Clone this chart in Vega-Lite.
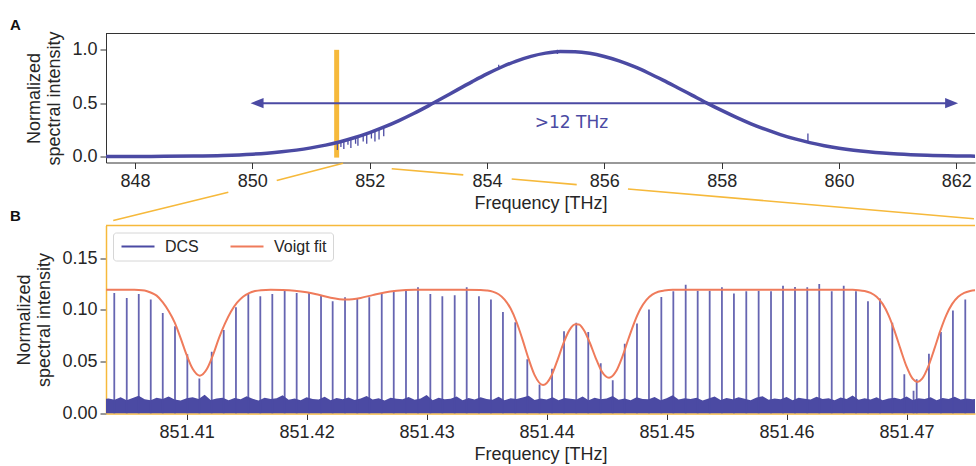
{
  "$schema": "https://vega.github.io/schema/vega-lite/v6.json",
  "padding": {"left": 10, "top": 17.5, "right": 0, "bottom": 0},
  "bounds": "flush",
  "spacing": 63,
  "resolve": {"legend": {"color": "independent"}, "scale": {"color": "independent"}},
  "config": {
    "view": {"stroke": null},
    "font": "Liberation Sans",
    "axis": {"labelFont": "Liberation Sans", "labelFontSize": 18, "labelColor": "#262626", "titleFont": "Liberation Sans", "titleFontSize": 18, "titleFontWeight": "normal", "titleColor": "#262626", "tickColor": "#333333", "tickSize": 6, "domainColor": "#333333", "grid": false, "labelPadding": 4, "titlePadding": 4, "titleLineHeight": 20, "labelFlush": false, "labelOverlap": false},
    "axisY": {"titlePadding": 8, "labelPadding": 3}
  },
  "datasets": {
    "curve": [
      {"f":847.5,"v":0.0003},{"f":848.0,"v":0.0008},{"f":848.5,"v":0.002},{"f":849.0,"v":0.0048},{"f":849.5,"v":0.0107},{"f":850.0,"v":0.0224},{"f":850.25,"v":0.0317},{"f":850.5,"v":0.044},{"f":850.75,"v":0.060},{"f":851.0,"v":0.081},{"f":851.25,"v":0.1068},{"f":851.5,"v":0.139},{"f":851.75,"v":0.178},{"f":852.0,"v":0.224},{"f":852.25,"v":0.277},{"f":852.5,"v":0.337},{"f":852.75,"v":0.403},{"f":853.0,"v":0.475},{"f":853.25,"v":0.550},{"f":853.5,"v":0.627},{"f":853.75,"v":0.702},{"f":854.0,"v":0.774},{"f":854.25,"v":0.839},{"f":854.5,"v":0.895},{"f":854.75,"v":0.939},{"f":855.0,"v":0.969},{"f":855.25,"v":0.984},{"f":855.5,"v":0.982},{"f":855.75,"v":0.967},{"f":856.0,"v":0.937},{"f":856.25,"v":0.896},{"f":856.5,"v":0.844},{"f":856.75,"v":0.783},{"f":857.0,"v":0.716},{"f":857.25,"v":0.645},{"f":857.5,"v":0.573},{"f":857.75,"v":0.501},{"f":858.0,"v":0.432},{"f":858.25,"v":0.367},{"f":858.5,"v":0.307},{"f":858.75,"v":0.254},{"f":859.0,"v":0.206},{"f":859.25,"v":0.165},{"f":859.5,"v":0.1305},{"f":859.75,"v":0.1015},{"f":860.0,"v":0.0778},{"f":860.25,"v":0.0588},{"f":860.5,"v":0.0438},{"f":860.75,"v":0.0321},{"f":861.0,"v":0.0232},{"f":861.5,"v":0.0116},{"f":862.0,"v":0.0055},{"f":862.4,"v":0.0029}
    ],
    "glitch": [
      {"f":851.45,"v":0.132,"v2":0.06},{"f":851.51,"v":0.142,"v2":0.09},{"f":851.56,"v":0.148,"v2":0.07},{"f":851.63,"v":0.158,"v2":0.11},{"f":851.68,"v":0.166,"v2":0.08},{"f":851.76,"v":0.18,"v2":0.12},{"f":851.8,"v":0.186,"v2":0.10},{"f":851.89,"v":0.202,"v2":0.14},{"f":851.95,"v":0.214,"v2":0.12},{"f":852.03,"v":0.23,"v2":0.17},{"f":852.09,"v":0.241,"v2":0.14},{"f":852.16,"v":0.256,"v2":0.16},{"f":852.24,"v":0.274,"v2":0.19},{"f":859.47,"v":0.13,"v2":0.215},{"f":855.2,"v":0.96,"v2":1.0},{"f":854.2,"v":0.82,"v2":0.86}
    ],
    "connector": [
      {"f":847.630,"v":-0.600,"f2":849.591,"v2":-0.334},
      {"f":850.416,"v":-0.225,"f2":851.546,"v2":-0.0635},
      {"f":852.376,"v":-0.115,"f2":853.596,"v2":-0.172},
      {"f":854.421,"v":-0.211,"f2":855.529,"v2":-0.263},
      {"f":856.403,"v":-0.304,"f2":862.30,"v2":-0.583}
    ],
    "noise": [
      {"f":851.4030,"n":0.0140},{"f":851.4035,"n":0.0145},{"f":851.4040,"n":0.0132},{"f":851.4045,"n":0.0158},{"f":851.4050,"n":0.0127},{"f":851.4055,"n":0.0149},{"f":851.4060,"n":0.0171},{"f":851.4065,"n":0.0138},{"f":851.4070,"n":0.0129},{"f":851.4075,"n":0.0152},{"f":851.4080,"n":0.0141},
      {"f":851.4085,"n":0.0163},{"f":851.4090,"n":0.0135},{"f":851.4095,"n":0.0126},{"f":851.4100,"n":0.0147},{"f":851.4105,"n":0.0158},{"f":851.4110,"n":0.0139},{"f":851.4115,"n":0.0182},{"f":851.4120,"n":0.0131},{"f":851.4125,"n":0.0144},{"f":851.4130,"n":0.0153},
      {"f":851.4135,"n":0.0128},{"f":851.4140,"n":0.0149},{"f":851.4145,"n":0.0137},{"f":851.4150,"n":0.0166},{"f":851.4155,"n":0.0142},{"f":851.4160,"n":0.0125},{"f":851.4165,"n":0.0151},{"f":851.4170,"n":0.0139},{"f":851.4175,"n":0.0147},{"f":851.4180,"n":0.0175},
      {"f":851.4185,"n":0.0133},{"f":851.4190,"n":0.0146},{"f":851.4195,"n":0.0129},{"f":851.4200,"n":0.0158},{"f":851.4205,"n":0.0141},{"f":851.4210,"n":0.0136},{"f":851.4215,"n":0.0162},{"f":851.4220,"n":0.0127},{"f":851.4225,"n":0.0149},{"f":851.4230,"n":0.0138},
      {"f":851.4235,"n":0.0155},{"f":851.4240,"n":0.0131},{"f":851.4245,"n":0.0144},{"f":851.4250,"n":0.0168},{"f":851.4255,"n":0.0135},{"f":851.4260,"n":0.0148},{"f":851.4265,"n":0.0126},{"f":851.4270,"n":0.0153},{"f":851.4275,"n":0.0142},{"f":851.4280,"n":0.0137},
      {"f":851.4285,"n":0.0159},{"f":851.4290,"n":0.0132},{"f":851.4295,"n":0.0146},{"f":851.4300,"n":0.0178},{"f":851.4305,"n":0.0129},{"f":851.4310,"n":0.0151},{"f":851.4315,"n":0.0138},{"f":851.4320,"n":0.0143},{"f":851.4325,"n":0.0164},{"f":851.4330,"n":0.0127},
      {"f":851.4335,"n":0.0149},{"f":851.4340,"n":0.0136},{"f":851.4345,"n":0.0157},{"f":851.4350,"n":0.0141},{"f":851.4355,"n":0.0133},{"f":851.4360,"n":0.0161},{"f":851.4365,"n":0.0128},{"f":851.4370,"n":0.0147},{"f":851.4375,"n":0.0139},{"f":851.4380,"n":0.0154},
      {"f":851.4385,"n":0.0172},{"f":851.4390,"n":0.0131},{"f":851.4395,"n":0.0145},{"f":851.4400,"n":0.0136},{"f":851.4405,"n":0.0158},{"f":851.4410,"n":0.0127},{"f":851.4415,"n":0.0149},{"f":851.4420,"n":0.0142},{"f":851.4425,"n":0.0135},{"f":851.4430,"n":0.0163},
      {"f":851.4435,"n":0.0129},{"f":851.4440,"n":0.0151},{"f":851.4445,"n":0.0138},{"f":851.4450,"n":0.0146},{"f":851.4455,"n":0.0169},{"f":851.4460,"n":0.0132},{"f":851.4465,"n":0.0144},{"f":851.4470,"n":0.0127},{"f":851.4475,"n":0.0156},{"f":851.4480,"n":0.0141},
      {"f":851.4485,"n":0.0137},{"f":851.4490,"n":0.0159},{"f":851.4495,"n":0.0128},{"f":851.4500,"n":0.0148},{"f":851.4505,"n":0.0176},{"f":851.4510,"n":0.0134},{"f":851.4515,"n":0.0147},{"f":851.4520,"n":0.0139},{"f":851.4525,"n":0.0152},{"f":851.4530,"n":0.0126},
      {"f":851.4535,"n":0.0145},{"f":851.4540,"n":0.0163},{"f":851.4545,"n":0.0131},{"f":851.4550,"n":0.0149},{"f":851.4555,"n":0.0138},{"f":851.4560,"n":0.0157},{"f":851.4565,"n":0.0142},{"f":851.4570,"n":0.0129},{"f":851.4575,"n":0.0154},{"f":851.4580,"n":0.0167},
      {"f":851.4585,"n":0.0133},{"f":851.4590,"n":0.0146},{"f":851.4595,"n":0.0137},{"f":851.4600,"n":0.0159},{"f":851.4605,"n":0.0128},{"f":851.4610,"n":0.0151},{"f":851.4615,"n":0.0143},{"f":851.4620,"n":0.0135},{"f":851.4625,"n":0.0162},{"f":851.4630,"n":0.0139},
      {"f":851.4635,"n":0.0147},{"f":851.4640,"n":0.0127},{"f":851.4645,"n":0.0155},{"f":851.4650,"n":0.0141},{"f":851.4655,"n":0.0174},{"f":851.4660,"n":0.0132},{"f":851.4665,"n":0.0148},{"f":851.4670,"n":0.0136},{"f":851.4675,"n":0.0158},{"f":851.4680,"n":0.0129},
      {"f":851.4685,"n":0.0144},{"f":851.4690,"n":0.0152},{"f":851.4695,"n":0.0138},{"f":851.4700,"n":0.0165},{"f":851.4705,"n":0.0131},{"f":851.4710,"n":0.0147},{"f":851.4715,"n":0.0139},{"f":851.4720,"n":0.0156},{"f":851.4725,"n":0.0128},{"f":851.4730,"n":0.0149},
      {"f":851.4735,"n":0.0141},{"f":851.4740,"n":0.0161},{"f":851.4745,"n":0.0134},{"f":851.4750,"n":0.0146},{"f":851.4755,"n":0.0137},{"f":851.4760,"n":0.0142}
    ],
    "spikes": [
      {"f":851.40397,"h":0.1163},{"f":851.40501,"h":0.1115},{"f":851.40601,"h":0.1154},{"f":851.40701,"h":0.1100},{"f":851.40801,"h":0.0971},{"f":851.40903,"h":0.0843},{"f":851.41006,"h":0.0571},{"f":851.41106,"h":0.0337},{"f":851.41209,"h":0.0596},{"f":851.41309,"h":0.0805},
      {"f":851.41411,"h":0.1026},{"f":851.41514,"h":0.1163},{"f":851.41614,"h":0.1132},{"f":851.41714,"h":0.1154},{"f":851.41817,"h":0.1186},{"f":851.41917,"h":0.1163},{"f":851.42020,"h":0.1170},{"f":851.42120,"h":0.1138},{"f":851.42217,"h":0.1084},{"f":851.42320,"h":0.1122},
      {"f":851.42422,"h":0.1106},{"f":851.42522,"h":0.1122},{"f":851.42626,"h":0.1163},{"f":851.42726,"h":0.1186},{"f":851.42828,"h":0.1186},{"f":851.42928,"h":0.1218},{"f":851.43031,"h":0.1154},{"f":851.43131,"h":0.1132},{"f":851.43234,"h":0.1141},{"f":851.43334,"h":0.1218},
      {"f":851.43436,"h":0.1132},{"f":851.43536,"h":0.1100},{"f":851.43636,"h":0.0981},{"f":851.43739,"h":0.0882},{"f":851.43839,"h":0.0523},{"f":851.43941,"h":0.0280},{"f":851.44045,"h":0.0433},{"f":851.44145,"h":0.0795},{"f":851.44247,"h":0.0875},{"f":851.44347,"h":0.0788},
      {"f":851.44451,"h":0.0485},{"f":851.44551,"h":0.0321},{"f":851.44651,"h":0.0673},{"f":851.44753,"h":0.0869},{"f":851.44853,"h":0.1004},{"f":851.44956,"h":0.1125},{"f":851.45056,"h":0.1180},{"f":851.45159,"h":0.1244},{"f":851.45259,"h":0.1186},{"f":851.45359,"h":0.1186},
      {"f":851.45461,"h":0.1218},{"f":851.45561,"h":0.1158},{"f":851.45664,"h":0.1180},{"f":851.45767,"h":0.1186},{"f":851.45870,"h":0.1180},{"f":851.45970,"h":0.1234},{"f":851.46070,"h":0.1221},{"f":851.46172,"h":0.1218},{"f":851.46272,"h":0.1250},{"f":851.46376,"h":0.1180},
      {"f":851.46476,"h":0.1234},{"f":851.46578,"h":0.1180},{"f":851.46678,"h":0.1084},{"f":851.46778,"h":0.1110},{"f":851.46881,"h":0.0875},{"f":851.46981,"h":0.0379},{"f":851.47058,"h":0.0220},{"f":851.47084,"h":0.0331},{"f":851.47186,"h":0.0577},{"f":851.47286,"h":0.0786},
      {"f":851.47386,"h":0.0994},{"f":851.47489,"h":0.1100}
    ],
    "fit": [
      {"f":851.4033,"v":0.1195},{"f":851.4045,"v":0.1195},{"f":851.4055,"v":0.1194},{"f":851.4060,"v":0.1193},{"f":851.4065,"v":0.1188},{"f":851.4070,"v":0.1168},{"f":851.4075,"v":0.1138},{"f":851.4080,"v":0.1075},{"f":851.4085,"v":0.0990},{"f":851.4090,"v":0.0880},{"f":851.4095,"v":0.0728},{"f":851.4100,"v":0.0565},{"f":851.4105,"v":0.0431},{"f":851.4111,"v":0.0365},{"f":851.4117,"v":0.0431},{"f":851.4122,"v":0.0565},{"f":851.4127,"v":0.0730},{"f":851.4132,"v":0.0870},{"f":851.4137,"v":0.0985},{"f":851.4142,"v":0.1070},{"f":851.4147,"v":0.1128},{"f":851.4152,"v":0.1163},{"f":851.4157,"v":0.1182},{"f":851.4162,"v":0.1191},{"f":851.4170,"v":0.1195},
      {"f":851.4180,"v":0.1193},{"f":851.4190,"v":0.1186},{"f":851.4200,"v":0.1171},{"f":851.4210,"v":0.1146},{"f":851.4220,"v":0.1118},{"f":851.4233,"v":0.1100},{"f":851.4245,"v":0.1116},{"f":851.4255,"v":0.1143},{"f":851.4265,"v":0.1169},{"f":851.4275,"v":0.1185},{"f":851.4290,"v":0.1195},{"f":851.4320,"v":0.1195},
      {"f":851.4345,"v":0.1193},{"f":851.4350,"v":0.1188},{"f":851.4355,"v":0.1177},{"f":851.4360,"v":0.1151},{"f":851.4365,"v":0.1100},{"f":851.4370,"v":0.1013},{"f":851.4375,"v":0.0881},{"f":851.4380,"v":0.0711},{"f":851.4385,"v":0.0527},{"f":851.4390,"v":0.0370},{"f":851.4397,"v":0.0274},{"f":851.4404,"v":0.0365},{"f":851.4409,"v":0.0513},{"f":851.4414,"v":0.0677},{"f":851.4419,"v":0.0805},{"f":851.4424,"v":0.0862},{"f":851.4427,"v":0.0860},{"f":851.4431,"v":0.0806},{"f":851.4436,"v":0.0683},{"f":851.4441,"v":0.0533},{"f":851.4446,"v":0.0405},{"f":851.4452,"v":0.0345},{"f":851.4458,"v":0.0410},{"f":851.4463,"v":0.0545},{"f":851.4468,"v":0.0714},{"f":851.4473,"v":0.0876},{"f":851.4478,"v":0.1006},{"f":851.4483,"v":0.1095},{"f":851.4488,"v":0.1147},{"f":851.4493,"v":0.1175},{"f":851.4498,"v":0.1187},{"f":851.4505,"v":0.1194},
      {"f":851.4550,"v":0.1195},{"f":851.4600,"v":0.1195},{"f":851.4655,"v":0.1194},{"f":851.4660,"v":0.1191},{"f":851.4665,"v":0.1183},{"f":851.4670,"v":0.1165},{"f":851.4675,"v":0.1127},{"f":851.4680,"v":0.1058},{"f":851.4685,"v":0.0948},{"f":851.4690,"v":0.0796},{"f":851.4695,"v":0.0619},{"f":851.4700,"v":0.0452},{"f":851.4705,"v":0.0336},{"f":851.4709,"v":0.0305},{"f":851.4713,"v":0.0336},{"f":851.4718,"v":0.0452},{"f":851.4723,"v":0.0619},{"f":851.4728,"v":0.0796},{"f":851.4733,"v":0.0948},{"f":851.4738,"v":0.1058},{"f":851.4743,"v":0.1127},{"f":851.4748,"v":0.1165},{"f":851.4753,"v":0.1183},{"f":851.4758,"v":0.1191}
    ]
  },
  "vconcat": [
    {
      "width": 869,
      "height": 129,
      "title": {"text": "A", "anchor": "start", "frame": "group", "dx": -96, "offset": -2, "fontSize": 15, "fontWeight": "bold", "color": "#111111", "font": "Liberation Sans"},
      "layer": [
        {
          "data": {"values": [{"f": 851.395, "f2": 851.48, "v": -0.01, "v2": 1.0}]},
          "mark": {"type": "rect", "color": "#f6b93b"},
          "encoding": {
            "x": {"field": "f", "type": "quantitative", "scale": {"domain": [847.506, 862.318], "nice": false, "zero": false}, "axis": {"values": [848, 850, 852, 854, 856, 858, 860, 862], "format": "d", "title": "Frequency [THz]"}},
            "x2": {"field": "f2"},
            "y": {"field": "v", "type": "quantitative", "scale": {"domain": [-0.056, 1.153], "nice": false, "zero": false}, "axis": {"values": [0, 0.5, 1.0], "format": ".1f", "title": ["Normalized", "spectral intensity"]}},
            "y2": {"field": "v2"}
          }
        },
        {
          "data": {"name": "curve"},
          "mark": {"type": "line", "color": "#4b4aa3", "strokeWidth": 3.5, "interpolate": "monotone", "clip": true},
          "encoding": {
            "x": {"field": "f", "type": "quantitative", "scale": {"domain": [847.506, 862.318], "nice": false, "zero": false}},
            "y": {"field": "v", "type": "quantitative", "scale": {"domain": [-0.056, 1.153], "nice": false, "zero": false}}
          }
        },
        {
          "data": {"name": "glitch"},
          "mark": {"type": "rule", "color": "#4b4aa3", "strokeWidth": 1.3, "clip": true},
          "encoding": {
            "x": {"field": "f", "type": "quantitative", "scale": {"domain": [847.506, 862.318], "nice": false, "zero": false}},
            "y": {"field": "v", "type": "quantitative", "scale": {"domain": [-0.056, 1.153], "nice": false, "zero": false}},
            "y2": {"field": "v2"}
          }
        },
        {
          "data": {"values": [{"f": 850.1, "f2": 861.9, "v": 0.5}]},
          "mark": {"type": "rule", "color": "#4b4aa3", "strokeWidth": 2},
          "encoding": {
            "x": {"field": "f", "type": "quantitative", "scale": {"domain": [847.506, 862.318], "nice": false, "zero": false}},
            "x2": {"field": "f2"},
            "y": {"field": "v", "type": "quantitative", "scale": {"domain": [-0.056, 1.153], "nice": false, "zero": false}}
          }
        },
        {
          "data": {"values": [{"f": 849.97, "v": 0.5}]},
          "mark": {"type": "point", "shape": "M0,0L2,-0.8L2,0.8Z", "filled": true, "size": 169, "color": "#4b4aa3", "opacity": 1},
          "encoding": {
            "x": {"field": "f", "type": "quantitative", "scale": {"domain": [847.506, 862.318], "nice": false, "zero": false}},
            "y": {"field": "v", "type": "quantitative", "scale": {"domain": [-0.056, 1.153], "nice": false, "zero": false}}
          }
        },
        {
          "data": {"values": [{"f": 862.03, "v": 0.5}]},
          "mark": {"type": "point", "shape": "M0,0L-2,-0.8L-2,0.8Z", "filled": true, "size": 169, "color": "#4b4aa3", "opacity": 1},
          "encoding": {
            "x": {"field": "f", "type": "quantitative", "scale": {"domain": [847.506, 862.318], "nice": false, "zero": false}},
            "y": {"field": "v", "type": "quantitative", "scale": {"domain": [-0.056, 1.153], "nice": false, "zero": false}}
          }
        },
        {
          "data": {"values": [{"f": 855.44, "v": 0.315, "t": ">12 THz"}]},
          "mark": {"type": "text", "color": "#4b4aa3", "font": "DejaVu Sans", "fontSize": 17, "align": "center", "baseline": "middle"},
          "encoding": {
            "x": {"field": "f", "type": "quantitative", "scale": {"domain": [847.506, 862.318], "nice": false, "zero": false}},
            "y": {"field": "v", "type": "quantitative", "scale": {"domain": [-0.056, 1.153], "nice": false, "zero": false}},
            "text": {"field": "t"}
          }
        },
        {
          "data": {"values": [{"f": 847.506, "f2": 862.318, "v": 1.153}]},
          "mark": {"type": "rule", "color": "#333333", "strokeWidth": 1, "clip": false},
          "encoding": {
            "x": {"field": "f", "type": "quantitative", "scale": {"domain": [847.506, 862.318], "nice": false, "zero": false}},
            "x2": {"field": "f2"},
            "y": {"field": "v", "type": "quantitative", "scale": {"domain": [-0.056, 1.153], "nice": false, "zero": false}}
          }
        },
        {
          "data": {"name": "connector"},
          "mark": {"type": "rule", "color": "#f6b93b", "strokeWidth": 1.6, "clip": false},
          "encoding": {
            "x": {"field": "f", "type": "quantitative", "scale": {"domain": [847.506, 862.318], "nice": false, "zero": false}},
            "x2": {"field": "f2"},
            "y": {"field": "v", "type": "quantitative", "scale": {"domain": [-0.056, 1.153], "nice": false, "zero": false}},
            "y2": {"field": "v2"}
          }
        }
      ]
    },
    {
      "width": 869,
      "height": 188,
      "title": {"text": "B", "anchor": "start", "frame": "group", "dx": -96, "offset": 1, "fontSize": 15, "fontWeight": "bold", "color": "#111111", "font": "Liberation Sans"},
      "layer": [
        {
          "data": {"name": "noise"},
          "mark": {"type": "area", "color": "#4b4aa3", "opacity": 1, "clip": true},
          "encoding": {
            "x": {"field": "f", "type": "quantitative", "scale": {"domain": [851.40328, 851.4757], "nice": false, "zero": false}, "axis": {"values": [851.41, 851.42, 851.43, 851.44, 851.45, 851.46, 851.47], "format": ".2f", "title": "Frequency [THz]", "domainColor": "#f6b93b", "domainWidth": 1.5}},
            "y": {"field": "n", "type": "quantitative", "scale": {"domain": [0, 0.1815], "nice": false, "zero": false}, "axis": {"values": [0, 0.05, 0.1, 0.15], "format": ".2f", "title": ["Normalized", "spectral intensity"], "domainColor": "#f6b93b", "domainWidth": 1.5}}
          }
        },
        {
          "data": {"name": "spikes"},
          "mark": {"type": "rule", "strokeWidth": 1.8, "opacity": 0.85, "clip": true},
          "encoding": {
            "x": {"field": "f", "type": "quantitative", "scale": {"domain": [851.40328, 851.4757], "nice": false, "zero": false}},
            "y": {"field": "h", "type": "quantitative", "scale": {"domain": [0, 0.1815], "nice": false, "zero": false}},
            "y2": {"datum": 0},
            "color": {"datum": "DCS", "type": "nominal", "scale": {"domain": ["DCS", "Voigt fit"], "range": ["#4b4aa3", "#ef7b5b"]}, "legend": {"title": null, "orient": "top-left", "offset": 7, "direction": "horizontal", "symbolType": "M-3,0L3,0", "symbolSize": 121, "symbolOffset": 11, "symbolStrokeWidth": 2, "symbolOpacity": 1, "labelFontSize": 16, "labelFont": "Liberation Sans", "labelColor": "#262626", "labelOffset": 19, "columnPadding": 27, "padding": 6, "fillColor": "rgba(255,255,255,0.85)", "strokeColor": "#d6d6d6", "cornerRadius": 3}}
          }
        },
        {
          "data": {"name": "fit"},
          "mark": {"type": "line", "strokeWidth": 2, "interpolate": "monotone", "clip": true},
          "encoding": {
            "x": {"field": "f", "type": "quantitative", "scale": {"domain": [851.40328, 851.4757], "nice": false, "zero": false}},
            "y": {"field": "v", "type": "quantitative", "scale": {"domain": [0, 0.1815], "nice": false, "zero": false}},
            "color": {"datum": "Voigt fit", "type": "nominal", "scale": {"domain": ["DCS", "Voigt fit"], "range": ["#4b4aa3", "#ef7b5b"]}}
          }
        },
        {
          "data": {"values": [{"f": 851.40328, "f2": 851.4757, "v": 0.1815}]},
          "mark": {"type": "rule", "color": "#f6b93b", "strokeWidth": 1.5, "clip": false},
          "encoding": {
            "x": {"field": "f", "type": "quantitative", "scale": {"domain": [851.40328, 851.4757], "nice": false, "zero": false}},
            "x2": {"field": "f2"},
            "y": {"field": "v", "type": "quantitative", "scale": {"domain": [0, 0.1815], "nice": false, "zero": false}}
          }
        }
      ]
    }
  ]
}
